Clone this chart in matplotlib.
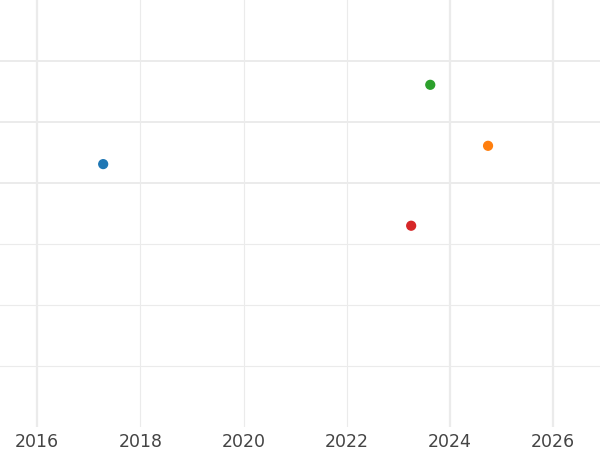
import matplotlib
matplotlib.use('Agg')
import matplotlib.pyplot as plt

# data
years = [2017.28, 2023.62, 2024.74, 2023.25]
values = [4.31, 5.61, 4.61, 3.30]
colors = ['#1f77b4', '#2ca02c', '#ff7f0e', '#d62728']
xticks = [2016, 2018, 2020, 2022, 2024, 2026]

fig = plt.figure(figsize=(6, 4.5), dpi=100)
ax = fig.add_axes([0, 0.051, 1, 0.949])
ax.set_xlim(2015.28, 2026.91)
ax.set_ylim(0, 7)

# grid, some lines a bit heavier like the reference
for x in xticks:
    lw = 1.6 if x in (2016, 2024, 2026) else 0.8
    ax.axvline(x, color='#ebebeb', lw=lw, zorder=0)
for y in range(1, 7):
    lw = 1.4 if y >= 4 else 0.8
    ax.axhline(y, color='#ebebeb', lw=lw, zorder=0)

ax.scatter(years, values, c=colors, s=40, zorder=3)

ax.set_xticks(xticks)
ax.set_xticklabels([str(x) for x in xticks], fontsize=12.5, color='#444444')
ax.set_yticks([])
ax.tick_params(axis='x', length=0, pad=4)
for s in ax.spines.values():
    s.set_visible(False)

plt.savefig('out.png')
